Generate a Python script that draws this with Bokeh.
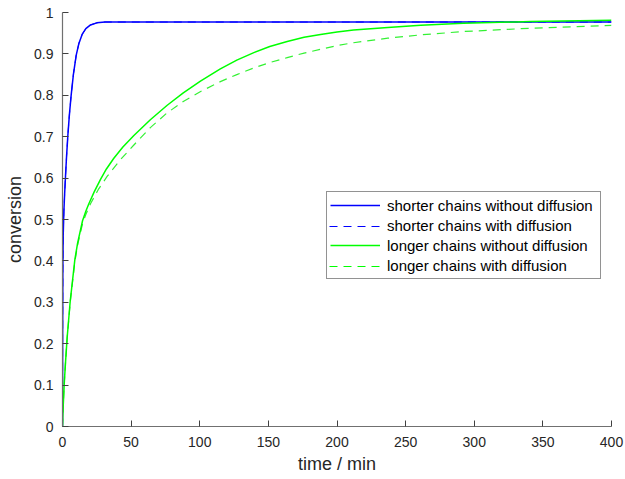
from bokeh.plotting import figure
from bokeh.models import Legend, LegendItem, Range1d, FixedTicker
from bokeh.embed import file_html
from bokeh.resources import INLINE

# data
t_short = [0, 0.1, 0.25, 0.5, 1.0, 1.6, 2.2, 3.0, 3.9, 5.0, 6.3, 8.0, 10.0, 12.0, 14.3, 17.0, 20.4, 25.0, 31.0, 40.0, 400.0]
c_short = [0, 0.22, 0.38, 0.46, 0.52, 0.565, 0.605, 0.655, 0.703, 0.752, 0.80, 0.852, 0.897, 0.926, 0.947, 0.961, 0.970, 0.975, 0.977, 0.977, 0.977]

t_long = [0, 0.4, 1.2, 2.2, 3.4, 5.6, 9.0, 11, 14.6, 17, 19.2, 23, 27.7, 32, 37.4, 44, 52, 64, 76.3, 88, 100.5, 115, 127, 139.4, 151, 163.7, 176, 188, 200, 212, 237, 261, 292, 341, 400]
c_long = [0, 0.04, 0.10, 0.155, 0.215, 0.302, 0.403, 0.443, 0.497, 0.520, 0.538, 0.566, 0.597, 0.622, 0.648, 0.675, 0.703, 0.741, 0.776, 0.806, 0.834, 0.864, 0.885, 0.903, 0.918, 0.930, 0.940, 0.947, 0.953, 0.958, 0.964, 0.969, 0.974, 0.978, 0.981]

t_long_d = [0, 0.4, 1.2, 2.2, 3.4, 5.6, 9.0, 11, 14.6, 17, 20.4, 26, 32.5, 41.8, 52, 64, 76, 88, 100, 115, 127, 139.4, 151, 163.7, 176, 188, 200, 212, 237, 261, 292, 341, 400]
c_long_d = [0, 0.04, 0.10, 0.155, 0.213, 0.300, 0.398, 0.438, 0.490, 0.512, 0.538, 0.572, 0.604, 0.643, 0.680, 0.722, 0.757, 0.785, 0.808, 0.833, 0.850, 0.866, 0.879, 0.891, 0.902, 0.911, 0.920, 0.927, 0.938, 0.946, 0.954, 0.962, 0.969]

x_ticks = [0, 50, 100, 150, 200, 250, 300, 350, 400]
y_ticks = [0, 0.1, 0.2, 0.3, 0.4, 0.5, 0.6, 0.7, 0.8, 0.9, 1]

labels = ["shorter chains without diffusion", "shorter chains with diffusion",
          "longer chains without diffusion", "longer chains with diffusion"]

BLUE = "#0000FF"
GREEN = "#00FF00"

W, H = 625, 479
ML, MR, MT, MB = 62, 14, 12, 53
FW, FH = W - ML - MR, H - MT - MB
X0, X1, Y0, Y1 = 0, 400, 0, 1

p = figure(width=W, height=H, output_backend="svg", toolbar_location=None,
           x_range=Range1d(X0, X1), y_range=Range1d(Y0, Y1),
           min_border_left=ML, min_border_right=MR, min_border_top=MT, min_border_bottom=MB)
p.outline_line_color = None
p.grid.visible = False
p.background_fill_color = "white"
p.border_fill_color = "white"

r2 = p.line(t_short, c_short, line_color=BLUE, line_width=1, line_dash="8 6")
r1 = p.line(t_short, c_short, line_color=BLUE, line_width=1.5)
r3 = p.line(t_long, c_long, line_color=GREEN, line_width=1.5)
r4 = p.line(t_long_d, c_long_d, line_color="#00EE00", line_width=1.2, line_dash="8 6", line_alpha=0.8)

# invisible proxies for the dashed legend entries (legend swatches drawn below)
r2p = p.line([], [], line_color=BLUE, line_alpha=0)
r4p = p.line([], [], line_color=GREEN, line_alpha=0)

for ax in (p.xaxis[0], p.yaxis[0]):
    ax.axis_line_color = "#707070"
    ax.axis_line_width = 1.2
    ax.major_tick_line_color = "#404040"
    ax.major_tick_in = 6
    ax.major_tick_out = 0
    ax.minor_tick_line_color = None
    ax.major_label_text_font = "Liberation Sans"
    ax.major_label_text_font_size = "14px"
    ax.major_label_text_color = "#262626"
    ax.axis_label_text_font = "Liberation Sans"
    ax.axis_label_text_font_size = "18px"
    ax.axis_label_text_font_style = "normal"
    ax.axis_label_text_color = "#262626"

p.xaxis.ticker = FixedTicker(ticks=x_ticks)
p.yaxis.ticker = FixedTicker(ticks=y_ticks)
p.xaxis.major_label_overrides = {v: str(v) for v in x_ticks}
p.yaxis.major_label_overrides = {v: ("0" if v == 0 else "1" if v == 1 else f"{v:.1f}") for v in y_ticks}
p.xaxis.axis_label = "time / min"
p.yaxis.axis_label = "conversion"
p.xaxis.major_label_standoff = 10
p.yaxis.major_label_standoff = 9
p.xaxis.axis_label_standoff = 4
p.yaxis.axis_label_standoff = 6

LX, LY, PAD, GW, RH = 264, 147, 3, 50, 20
legend = Legend(items=[
    LegendItem(label=labels[0], renderers=[r1]),
    LegendItem(label=labels[1], renderers=[r2p]),
    LegendItem(label=labels[2], renderers=[r3]),
    LegendItem(label=labels[3], renderers=[r4p]),
], location=(LX, LY))
legend.border_line_color = "#262626"
legend.border_line_width = 1
legend.label_text_font = "Liberation Sans"
legend.label_text_font_size = "15px"
legend.label_text_color = "#000000"
legend.glyph_width = GW
legend.glyph_height = RH
legend.label_height = RH
legend.label_width = 210
legend.spacing = 0
legend.padding = PAD
legend.margin = 0
legend.label_standoff = 7
legend.background_fill_alpha = 0
p.add_layout(legend, "center")

# dashed legend swatches, positioned in frame pixels -> data units
def fx(px):
    return X0 + px * (X1 - X0) / FW

def fy(py):
    return Y0 + py * (Y1 - Y0) / FH

top = LY + 2 * PAD + 4 * RH
rows_y = [top - PAD - RH * (i + 0.5) for i in range(4)]
gx0, gx1 = LX + PAD, LX + PAD + GW
p.line([fx(gx0), fx(gx1)], [fy(rows_y[1]), fy(rows_y[1])],
       line_color=BLUE, line_width=1, line_dash="8 6")
p.line([fx(gx0), fx(gx1)], [fy(rows_y[3]), fy(rows_y[3])],
       line_color=GREEN, line_width=1, line_dash="8 6")

open("out.html", "w").write(file_html(p, INLINE))
